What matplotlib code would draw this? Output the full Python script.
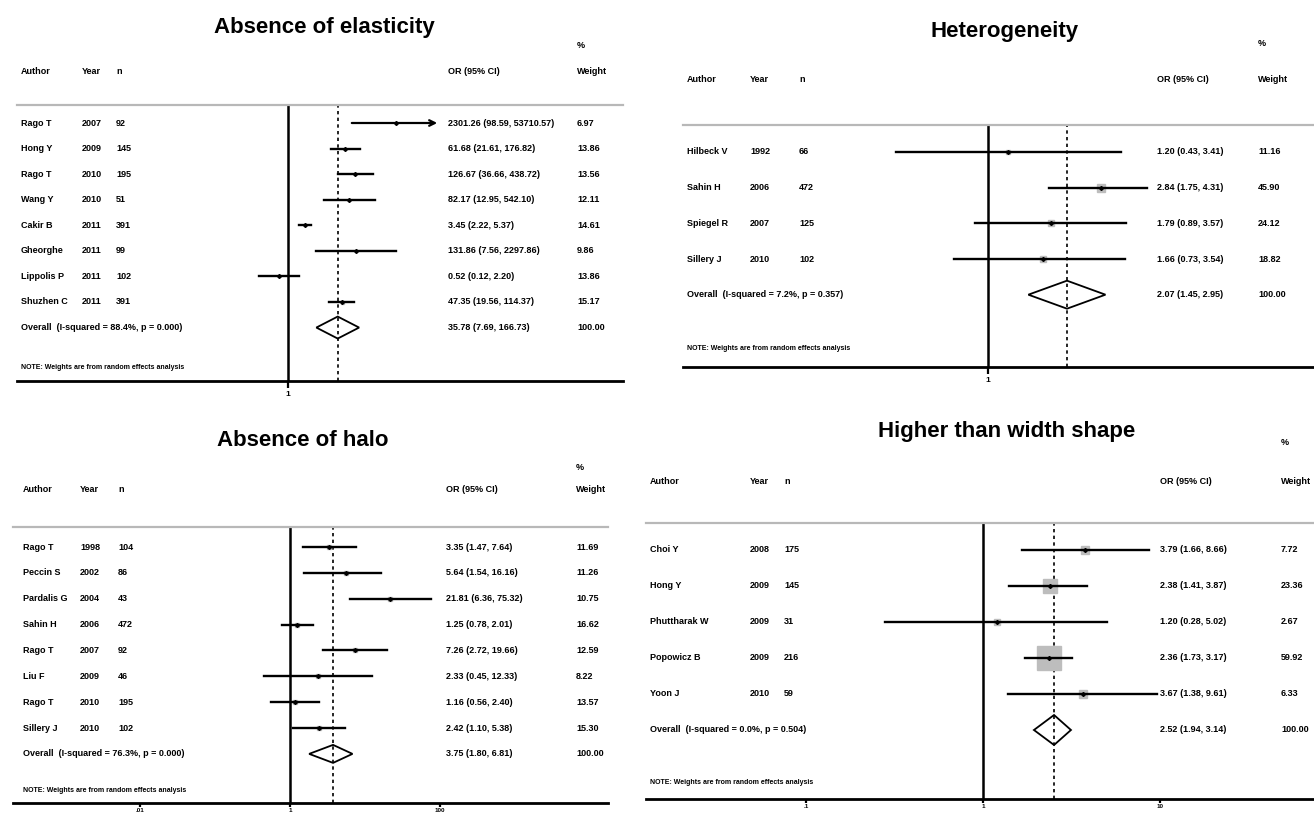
import numpy as np
import matplotlib.pyplot as plt
from matplotlib.ticker import NullLocator
from matplotlib.transforms import blended_transform_factory

plt.rcParams['font.family'] = ['Liberation Sans Narrow', 'Liberation Sans', 'DejaVu Sans']

W, H = 1314, 816

# ---- Absence of elasticity
elast_authors = ["Rago T", "Hong Y", "Rago T", "Wang Y", "Cakir B", "Gheorghe", "Lippolis P", "Shuzhen C"]
elast_years = [2007, 2009, 2010, 2010, 2011, 2011, 2011, 2011]
elast_n = [92, 145, 195, 51, 391, 99, 102, 391]
elast_or = [2301.26, 61.68, 126.67, 82.17, 3.45, 131.86, 0.52, 47.35]
elast_lo = [98.59, 21.61, 36.66, 12.95, 2.22, 7.56, 0.12, 19.56]
elast_hi = [53710.57, 176.82, 438.72, 542.10, 5.37, 2297.86, 2.20, 114.37]
elast_wt = [6.97, 13.86, 13.56, 12.11, 14.61, 9.86, 13.86, 15.17]
elast_overall = [35.78, 7.69, 166.73]
elast_overall_lab = "Overall  (I-squared = 88.4%, p = 0.000)"

# ---- Heterogeneity
het_authors = ["Hilbeck V", "Sahin H", "Spiegel R", "Sillery J"]
het_years = [1992, 2006, 2007, 2010]
het_n = [66, 472, 125, 102]
het_or = [1.20, 2.84, 1.79, 1.66]
het_lo = [0.43, 1.75, 0.89, 0.73]
het_hi = [3.41, 4.31, 3.57, 3.54]
het_wt = [11.16, 45.90, 24.12, 18.82]
het_overall = [2.07, 1.45, 2.95]
het_overall_lab = "Overall  (I-squared = 7.2%, p = 0.357)"

# ---- Absence of halo
halo_authors = ["Rago T", "Peccin S", "Pardalis G", "Sahin H", "Rago T", "Liu F", "Rago T", "Sillery J"]
halo_years = [1998, 2002, 2004, 2006, 2007, 2009, 2010, 2010]
halo_n = [104, 86, 43, 472, 92, 46, 195, 102]
halo_or = [3.35, 5.64, 21.81, 1.25, 7.26, 2.33, 1.16, 2.42]
halo_lo = [1.47, 1.54, 6.36, 0.78, 2.72, 0.45, 0.56, 1.10]
halo_hi = [7.64, 16.16, 75.32, 2.01, 19.66, 12.33, 2.40, 5.38]
halo_wt = [11.69, 11.26, 10.75, 16.62, 12.59, 8.22, 13.57, 15.30]
halo_overall = [3.75, 1.80, 6.81]
halo_overall_lab = "Overall  (I-squared = 76.3%, p = 0.000)"

# ---- Higher than width shape
shape_authors = ["Choi Y", "Hong Y", "Phuttharak W", "Popowicz B", "Yoon J"]
shape_years = [2008, 2009, 2009, 2009, 2010]
shape_n = [175, 145, 31, 216, 59]
shape_or = [3.79, 2.38, 1.20, 2.36, 3.67]
shape_lo = [1.66, 1.41, 0.28, 1.73, 1.38]
shape_hi = [8.66, 3.87, 5.02, 3.17, 9.61]
shape_wt = [7.72, 23.36, 2.67, 59.92, 6.33]
shape_overall = [2.52, 1.94, 3.14]
shape_overall_lab = "Overall  (I-squared = 0.0%, p = 0.504)"

# axis ticks
elast_ticks, elast_ticklabels = [1], ["1"]
het_ticks, het_ticklabels = [1], ["1"]
halo_ticks, halo_ticklabels = [0.01, 1, 100], [".01", "1", "100"]
shape_ticks, shape_ticklabels = [0.1, 1, 10], [".1", "1", "10"]

note = "NOTE: Weights are from random effects analysis"

fig = plt.figure(figsize=(W / 100, H / 100), dpi=100)


def forest(lay, title, authors, years, ns, ors, los, his, wts, overall, overall_lab, ticks, ticklabels):
    ax = fig.add_axes([lay['left'] / W, 1 - lay['bottom'] / H,
                       (lay['right'] - lay['left']) / W, (lay['bottom'] - lay['top']) / H])
    ax.patch.set_visible(False)
    ax.set_xscale('log')
    ax.set_xlim(10 ** ((lay['left'] - lay['null']) / lay['ppd']),
                10 ** ((lay['right'] - lay['null']) / lay['ppd']))
    ax.set_ylim((lay['bottom'] - lay['row0']) / lay['dy'], (lay['top'] - lay['row0']) / lay['dy'])
    for s in ['left', 'right']:
        ax.spines[s].set_visible(False)
    ax.spines['top'].set_color('#b8b8b8')
    ax.spines['top'].set_linewidth(1.6)
    ax.spines['bottom'].set_linewidth(2)
    ax.set_yticks([])
    ax.set_xticks(ticks, ticklabels)
    ax.xaxis.set_minor_locator(NullLocator())
    ax.tick_params(axis='x', length=lay['ticklen'], width=1.6, labelsize=lay['ticksize'], pad=lay['tickpad'])
    for t in ax.get_xticklabels():
        t.set_fontweight('bold')

    ax.axvline(1, color='black', lw=1.8, zorder=1)
    ax.axvline(overall[0], color='black', lw=1.2, ls=(0, (2, 2)), zorder=1)

    trans = blended_transform_factory(fig.transFigure, ax.transData)
    cols = lay['cols']
    fs = 6.5
    wmax = max(wts)
    for r in range(len(authors)):
        o, lo, hi, w = ors[r], los[r], his[r], wts[r]
        ax.plot(o, r, marker='s', ms=lay['box'] * np.sqrt(w / wmax) * 0.72,
                color='#bdbdbd', mec='#bdbdbd', zorder=2)
        if hi > lay['clip']:
            ax.annotate('', xy=(lay['clip'], r), xytext=(lo, r),
                        arrowprops=dict(arrowstyle='->', lw=1.6, color='black',
                                        shrinkA=0, shrinkB=0, mutation_scale=10), zorder=3)
        else:
            ax.plot([lo, hi], [r, r], color='black', lw=1.7, zorder=3)
        ax.plot(o, r, marker='D', ms=2.0, color='black', zorder=4)
        ax.text(cols[0] / W, r, authors[r], transform=trans, va='center', fontsize=fs, fontweight='bold')
        ax.text(cols[1] / W, r, str(years[r]), transform=trans, va='center', fontsize=fs, fontweight='bold')
        ax.text(cols[2] / W, r, str(ns[r]), transform=trans, va='center', fontsize=fs, fontweight='bold')
        ax.text(cols[3] / W, r, f"{o:.2f} ({lo:.2f}, {hi:.2f})", transform=trans,
                va='center', fontsize=fs, fontweight='bold')
        ax.text(cols[4] / W, r, f"{w:.2f}", transform=trans, va='center', fontsize=fs, fontweight='bold')

    n = len(authors)
    h = lay['dh'] / lay['dy']
    est, lo, hi = overall
    ax.fill([lo, est, hi, est], [n, n - h, n, n + h], facecolor='none', edgecolor='black', lw=1.3, zorder=3)
    ax.text(cols[0] / W, n, overall_lab, transform=trans, va='center', fontsize=fs, fontweight='bold')
    ax.text(cols[3] / W, n, f"{est:.2f} ({lo:.2f}, {hi:.2f})", transform=trans,
            va='center', fontsize=fs, fontweight='bold')
    ax.text(cols[4] / W, n, f"{sum(wts):.2f}", transform=trans, va='center', fontsize=fs, fontweight='bold')
    ax.text(cols[0] / W, 1 - lay['note_y'] / H, note, transform=fig.transFigure,
            va='center', fontsize=5, fontweight='bold')

    hy = 1 - lay['head_y'] / H
    for x, lab in zip(cols, ["Author", "Year", "n", "OR (95% CI)", "Weight"]):
        fig.text(x / W, hy, lab, va='center', fontsize=fs, fontweight='bold')
    fig.text(cols[4] / W, 1 - lay['pct_y'] / H, "%", va='center', fontsize=fs, fontweight='bold')
    fig.text(lay['title'][0] / W, 1 - lay['title'][1] / H, title, ha='center', va='center',
             fontsize=16, fontweight='bold')
    return ax


lay_elast = dict(left=17, right=623, null=288, ppd=32, row0=123, dy=25.57, top=105, bottom=381,
                 title=(324, 27), pct_y=45, head_y=72, cols=(21, 82, 116, 448, 577),
                 note_y=368, dh=11, box=3, clip=4.6e4, ticklen=5, ticksize=6, tickpad=2)
lay_het = dict(left=683, right=1314, null=988, ppd=250, row0=152, dy=35.67, top=125, bottom=367,
               title=(1005, 32), pct_y=43, head_y=80, cols=(687, 750, 799, 1157, 1258),
               note_y=349, dh=14, box=8, clip=1e9, ticklen=5, ticksize=6, tickpad=2)
lay_halo = dict(left=13, right=608, null=290, ppd=75, row0=547, dy=25.86, top=527, bottom=803,
                title=(303, 440), pct_y=468, head_y=489, cols=(23, 80, 118, 446, 576),
                note_y=791, dh=9, box=5, clip=1e9, ticklen=3, ticksize=4.5, tickpad=0.5)
lay_shape = dict(left=646, right=1314, null=983, ppd=177, row0=550, dy=36, top=523, bottom=799,
                 title=(1007, 432), pct_y=443, head_y=481, cols=(650, 750, 784, 1160, 1281),
                 note_y=782, dh=15, box=24, clip=1e9, ticklen=3, ticksize=4.5, tickpad=0.5)

forest(lay_elast, "Absence of elasticity", elast_authors, elast_years, elast_n, elast_or, elast_lo,
       elast_hi, elast_wt, elast_overall, elast_overall_lab, elast_ticks, elast_ticklabels)
forest(lay_het, "Heterogeneity", het_authors, het_years, het_n, het_or, het_lo,
       het_hi, het_wt, het_overall, het_overall_lab, het_ticks, het_ticklabels)
forest(lay_halo, "Absence of halo", halo_authors, halo_years, halo_n, halo_or, halo_lo,
       halo_hi, halo_wt, halo_overall, halo_overall_lab, halo_ticks, halo_ticklabels)
forest(lay_shape, "Higher than width shape", shape_authors, shape_years, shape_n, shape_or, shape_lo,
       shape_hi, shape_wt, shape_overall, shape_overall_lab, shape_ticks, shape_ticklabels)

fig.savefig("out.png", dpi=100)
